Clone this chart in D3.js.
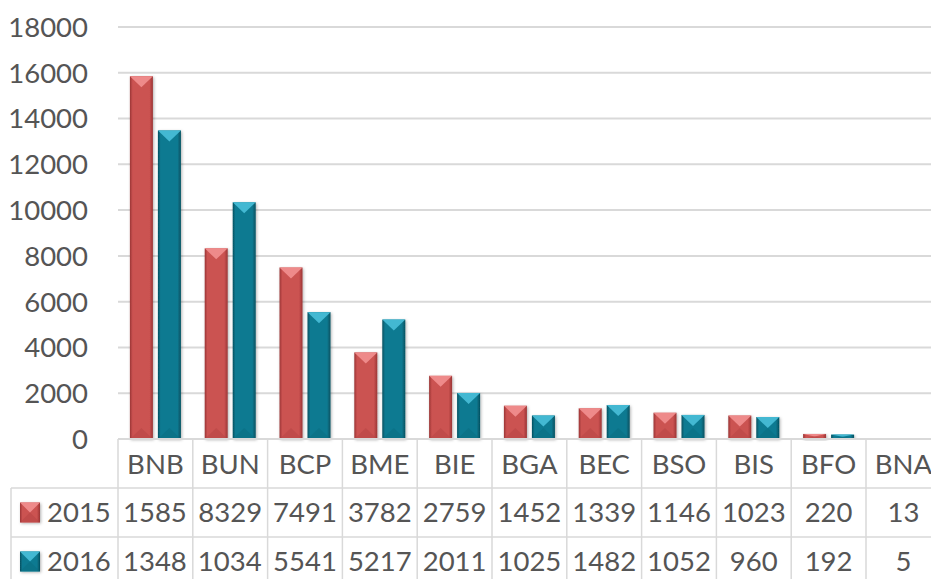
<!DOCTYPE html>
<html>
<head>
<meta charset="utf-8">
<script src="https://cdn.jsdelivr.net/npm/d3@7"></script>
<style>
  html, body { margin: 0; padding: 0; background: #ffffff; }
  svg { display: block; font-family: Lato, "Open Sans", sans-serif; }
</style>
</head>
<body>
<svg id="chart" width="931" height="579"></svg>
<script>
var categories = ["BNB", "BUN", "BCP", "BME", "BIE", "BGA", "BEC", "BSO", "BIS", "BFO", "BNA"];
var seriesNames = ["2015", "2016"];
var values2015 = [15850, 8329, 7491, 3782, 2759, 1452, 1339, 1146, 1023, 220, 13];
var values2016 = [13480, 10340, 5541, 5217, 2011, 1025, 1482, 1052, 960, 192, 5];
var yTicks = [0, 2000, 4000, 6000, 8000, 10000, 12000, 14000, 16000, 18000];

var colors = {
  "2015": {face: "#cb5251", edge: "#9a3535", top: "#ee8a8a", bottom: "#b54443"},
  "2016": {face: "#0b7a91", edge: "#05505f", top: "#43b8d2", bottom: "#096b80"}
};

var svg = d3.select("#chart");
var textColor = "#555555";
var lineColor = "#d9d9d9";
var fontSize = 27.5;

var left = 118, bandW = 74.8;
var x = d3.scaleBand()
  .domain(categories)
  .range([left, left + bandW * categories.length]);
var xs = d3.scaleBand()
  .domain(seriesNames)
  .range([0, x.bandwidth()])
  .paddingInner(0.179)
  .paddingOuter(0.425);
var y = d3.scaleLinear().domain([0, 18000]).range([439, 27]);

var series = seriesNames.map(function(name, i){
  var vals = i === 0 ? values2015 : values2016;
  return {name: name, values: vals};
});

// gradients for bar faces
var defs = svg.append("defs");
seriesNames.forEach(function(name){
  var g = defs.append("linearGradient")
    .attr("id", "grad" + name)
    .attr("x1", "0").attr("x2", "1").attr("y1", "0").attr("y2", "0");
  g.append("stop").attr("offset", "0").attr("stop-color", colors[name].edge);
  g.append("stop").attr("offset", "0.12").attr("stop-color", colors[name].face);
  g.append("stop").attr("offset", "0.85").attr("stop-color", colors[name].face);
  g.append("stop").attr("offset", "1").attr("stop-color", colors[name].edge);
});
var shadow = defs.append("filter").attr("id", "shadow")
  .attr("x", "-30%").attr("y", "-10%").attr("width", "160%").attr("height", "130%");
shadow.append("feDropShadow").attr("dx", 1).attr("dy", 1).attr("stdDeviation", 1.5)
  .attr("flood-color", "#000").attr("flood-opacity", 0.3);

// gridlines and y labels
svg.append("g").selectAll("line")
  .data(yTicks.filter(function(d){ return d > 0; }))
  .enter().append("line")
  .attr("x1", left).attr("x2", 931)
  .attr("y1", function(d){ return y(d); }).attr("y2", function(d){ return y(d); })
  .attr("stroke", lineColor).attr("stroke-width", 2);

svg.append("g").selectAll("text")
  .data(yTicks)
  .enter().append("text")
  .attr("x", 88)
  .attr("y", function(d){ return y(d); })
  .attr("dy", "0.36em")
  .attr("text-anchor", "end")
  .attr("fill", textColor)
  .attr("font-size", fontSize)
  .text(d3.format("d"));

// bevelled bar shape
function drawBar(g, x0, y0, w, h, c, gradId){
  if (h <= 0) return;
  var x1 = x0 + w, y1 = y0 + h, cx = x0 + w / 2;
  var d = Math.min(w / 2, h / 2, 11);
  g.append("rect").attr("x", x0).attr("y", y0).attr("width", w).attr("height", h)
    .attr("fill", "url(#" + gradId + ")").attr("filter", "url(#shadow)");
  if (h > 3) {
    g.append("path")
      .attr("d", "M" + x0 + "," + y0 + "L" + x1 + "," + y0 + "L" + cx + "," + (y0 + d) + "Z")
      .attr("fill", c.top);
    g.append("path")
      .attr("d", "M" + x0 + "," + y1 + "L" + x1 + "," + y1 + "L" + cx + "," + (y1 - d) + "Z")
      .attr("fill", c.bottom).attr("opacity", 0.5);
  } else {
    g.append("rect").attr("x", x0).attr("y", y0).attr("width", w).attr("height", h / 2)
      .attr("fill", c.top);
  }
}

var bars = svg.append("g");
series.forEach(function(s){
  s.values.forEach(function(v, i){
    var bx = x(categories[i]) + xs(s.name);
    drawBar(bars, bx, y(v), xs.bandwidth(), y(0) - y(v), colors[s.name], "grad" + s.name);
  });
});

// axis line
svg.append("line").attr("x1", left).attr("x2", 931).attr("y1", y(0)).attr("y2", y(0))
  .attr("stroke", lineColor).attr("stroke-width", 2);

// data table
var rowTop = [439, 488, 537];
var rowH = 49;
var table = svg.append("g");

table.selectAll("line.v")
  .data(d3.range(categories.length + 1))
  .enter().append("line")
  .attr("x1", function(i){ return left + i * x.step(); })
  .attr("x2", function(i){ return left + i * x.step(); })
  .attr("y1", 439).attr("y2", 579)
  .attr("stroke", lineColor).attr("stroke-width", 1.5);
table.append("line").attr("x1", 11).attr("x2", 11).attr("y1", 488).attr("y2", 579)
  .attr("stroke", lineColor).attr("stroke-width", 1.5);
[488, 537].forEach(function(yy){
  table.append("line").attr("x1", 11).attr("x2", 931).attr("y1", yy).attr("y2", yy)
    .attr("stroke", lineColor).attr("stroke-width", 1.5);
});

table.selectAll("text.cat")
  .data(categories)
  .enter().append("text")
  .attr("x", function(d){ return x(d) + x.bandwidth() / 2; })
  .attr("y", rowTop[0] + rowH / 2 + 1)
  .attr("dy", "0.36em")
  .attr("text-anchor", "middle")
  .attr("fill", textColor).attr("font-size", fontSize)
  .text(function(d){ return d; });

// cell text: if too wide, keep as many characters as fit, left aligned
function cellText(g, str, cx, cy, cellW){
  var t = g.append("text").attr("y", cy).attr("dy", "0.36em")
    .attr("fill", textColor).attr("font-size", fontSize).text(str);
  var s = str;
  if (t.node().getComputedTextLength() > cellW - 6) {
    while (s.length > 1 && t.node().getComputedTextLength() > cellW - 6) {
      s = s.slice(0, -1);
      t.text(s);
    }
    t.attr("x", cx - cellW / 2 + 5).attr("text-anchor", "start");
  } else {
    t.attr("x", cx).attr("text-anchor", "middle");
  }
}

series.forEach(function(s, r){
  var cy = rowTop[r + 1] + rowH / 2;
  var c = colors[s.name];
  drawBar(table, 20, cy - 10, 20, 20, c, "grad" + s.name);
  table.append("text").attr("x", 47).attr("y", cy).attr("dy", "0.36em")
    .attr("fill", textColor).attr("font-size", fontSize).text(s.name);
  s.values.forEach(function(v, i){
    cellText(table, String(v), x(categories[i]) + x.bandwidth() / 2, cy, x.bandwidth());
  });
});
</script>
</body>
</html>
